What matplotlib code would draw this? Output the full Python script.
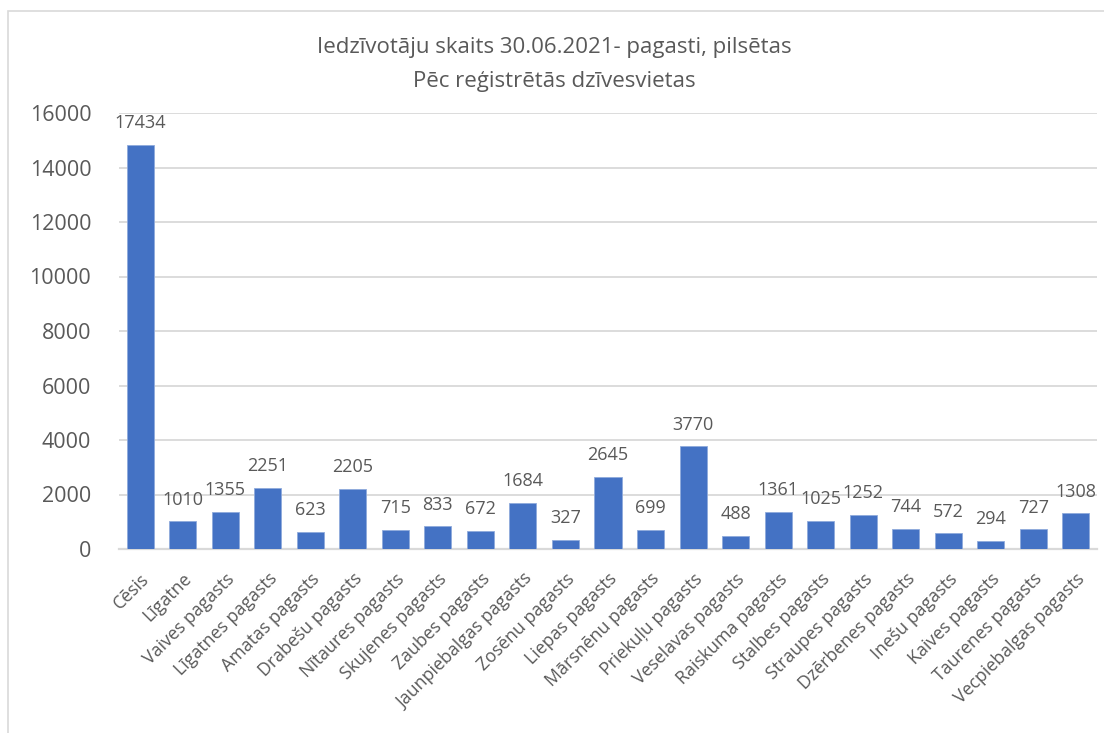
import matplotlib
matplotlib.use("Agg")
import matplotlib.pyplot as plt
from matplotlib.patches import Rectangle

categories = ["Cēsis", "Līgatne", "Vaives pagasts", "Līgatnes pagasts", "Amatas pagasts",
              "Drabešu pagasts", "Nītaures pagasts", "Skujenes pagasts", "Zaubes pagasts",
              "Jaunpiebalgas pagasts", "Zosēnu pagasts", "Liepas pagasts", "Mārsnēnu pagasts",
              "Priekuļu pagasts", "Veselavas pagasts", "Raiskuma pagasts", "Stalbes pagasts",
              "Straupes pagasts", "Dzērbenes pagasts", "Inešu pagasts", "Kaives pagasts",
              "Taurenes pagasts", "Vecpiebalgas pagasts"]
# bar heights as drawn in the picture (Cēsis bar is drawn shorter than its label)
bar_heights = [14830, 1010, 1355, 2251, 623, 2205, 715, 833, 672, 1684, 327, 2645, 699,
               3770, 488, 1361, 1025, 1252, 744, 572, 294, 727, 1308]
value_labels = ["17434", "1010", "1355", "2251", "623", "2205", "715", "833", "672", "1684",
                "327", "2645", "699", "3770", "488", "1361", "1025", "1252", "744", "572",
                "294", "727", "1308"]
yticks = [0, 2000, 4000, 6000, 8000, 10000, 12000, 14000, 16000]
title = "Iedzīvotāju skaits 30.06.2021- pagasti, pilsētas\nPēc reģistrētās dzīvesvietas"

plt.rcParams['font.family'] = ['Open Sans', 'DejaVu Sans']
txt = "#595959"
grid = "#d9d9d9"

W, H = 1104, 733
fig = plt.figure(figsize=(W / 100, H / 100), dpi=100)
fig.patch.set_facecolor("white")

# outer chart frame
fig.patches.append(Rectangle((8 / W, -0.01), 1.02, 1 - 11 / H + 0.01, transform=fig.transFigure,
                             fill=False, edgecolor=grid, linewidth=1.2))

ax = fig.add_axes([119 / W, 1 - 549 / H, (1097 - 119) / W, (549 - 113) / H])
x = list(range(len(categories)))
ax.bar(x, bar_heights, width=0.635, color="#4472C4", edgecolor="#8faadc", linewidth=0.6, zorder=3)

for xi, h, lab in zip(x, bar_heights, value_labels):
    ax.annotate(lab, (xi, h), xytext=(0, 12), textcoords="offset points",
                ha="center", va="baseline", fontsize=13, color=txt)

ax.set_xlim(-0.5, len(categories) - 0.5)
ax.set_ylim(0, 16000)
ax.set_yticks(yticks)
ax.set_yticklabels([str(v) for v in yticks], fontsize=15.5, color=txt)
ax.yaxis.grid(True, color=grid, linewidth=1.3, zorder=0)
ax.set_axisbelow(True)
for s in ["top", "right", "left"]:
    ax.spines[s].set_visible(False)
ax.spines["bottom"].set_color(grid)
ax.spines["bottom"].set_linewidth(1.6)
ax.tick_params(axis="y", length=0, pad=20)
ax.tick_params(axis="x", length=0, pad=15)
ax.set_xticks(x)
ax.set_xticklabels(categories, rotation=45, ha="right", va="top", rotation_mode="anchor",
                   fontsize=12.8, color=txt)

fig.text(554 / W, 1 - 64.5 / H, title, ha="center", va="center", fontsize=16, color=txt,
         linespacing=1.75)

fig.savefig("out.png", dpi=100, facecolor="white")
